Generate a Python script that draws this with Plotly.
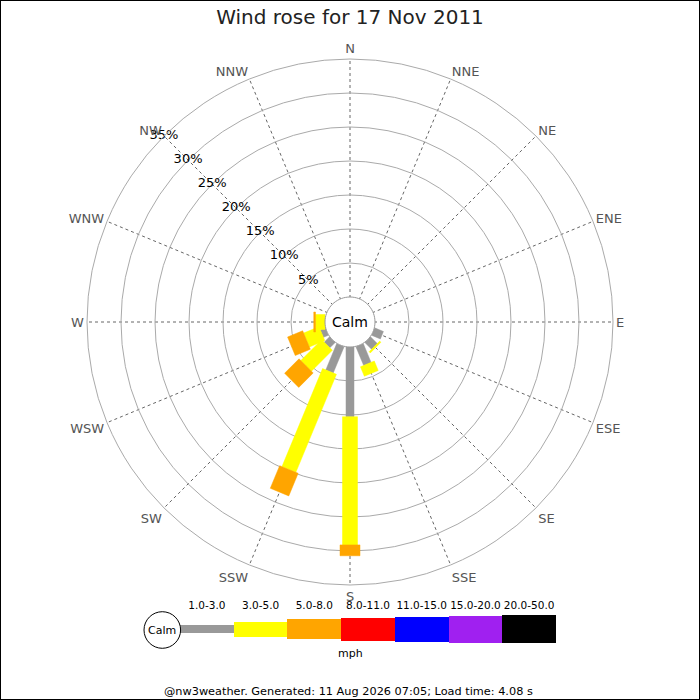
import math
import plotly.graph_objects as go

# wind rose data, % of time per direction and speed band (calm shown separately)
directions = ["N", "NNE", "NE", "ENE", "E", "ESE", "SE", "SSE",
              "S", "SSW", "SW", "WSW", "W", "WNW", "NW", "NNW"]
speed_bands = ["1.0-3.0", "3.0-5.0", "5.0-8.0", "8.0-11.0",
               "11.0-15.0", "15.0-20.0", "20.0-50.0"]
pct_1_3 = [0, 0, 0, 0, 0, 1.4, 1.4, 3.0, 10.25, 4.2, 1.1, 0.8, 0, 0, 0, 0]
pct_3_5 = [0, 0, 0, 0, 0, 0, 0.25, 1.5, 18.85, 15.6, 4.35, 2.45, 1.4, 0, 0, 0]
pct_5_8 = [0, 0, 0, 0, 0, 0, 0, 0, 1.6, 3.6, 3.0, 2.4, 0.25, 0, 0, 0]
pct_8_11 = [0, 0, 0, 0, 0, 0, 0, 0, 0, 0, 0, 0, 0, 0, 0, 0]
pct_11_15 = [0, 0, 0, 0, 0, 0, 0, 0, 0, 0, 0, 0, 0, 0, 0, 0]
pct_15_20 = [0, 0, 0, 0, 0, 0, 0, 0, 0, 0, 0, 0, 0, 0, 0, 0]
pct_20_50 = [0, 0, 0, 0, 0, 0, 0, 0, 0, 0, 0, 0, 0, 0, 0, 0]
ring_pcts = [5, 10, 15, 20, 25, 30, 35]

title = "Wind rose for 17 Nov 2011"
footer = "@nw3weather. Generated: 11 Aug 2026 07:05; Load time: 4.08 s"

# styles
band_colors = ["#999999", "#ffff00", "#ffa500", "#ff0000", "#0000ff", "#a020f0", "#000000"]
band_px = [8, 15, 20, 23, 25, 27, 28]
FONT = "DejaVu Sans"
W = H = 700
PX_PER_PCT = 6.8
CALM_PX = 25
OFF = CALM_PX / PX_PER_PCT
CX, CY, R_OUT = 350, 322, 263

series = [pct_1_3, pct_3_5, pct_5_8, pct_8_11, pct_11_15, pct_15_20, pct_20_50]
angles = [i * 360 / len(directions) for i in range(len(directions))]


def rect_polar(theta0, p0, p1, half):
    # straight-sided bar between p0 and p1 (%), half width in % units
    a0, a1 = p0 + OFF, p1 + OFF
    r, t = [], []
    for a, b in [(a0, -half), (a1, -half), (a1, half), (a0, half), (a0, -half)]:
        r.append(math.hypot(a, b) - OFF)
        t.append(theta0 + math.degrees(math.atan2(b, a)))
    return r, t


def note(x, y, text, size):
    fig.add_annotation(x=x / W, y=(H - y) / H, xref="paper", yref="paper", text=text,
                       showarrow=False, xanchor="center", yanchor="middle",
                       font=dict(family=FONT, size=size, color="black"))


fig = go.Figure()

base = [0.0] * len(directions)
for k, vals in enumerate(series):
    rr, tt = [], []
    half = band_px[k] / 2 / PX_PER_PCT
    for i, v in enumerate(vals):
        if v <= 0:
            continue
        r, t = rect_polar(angles[i], base[i], base[i] + v, half)
        rr += r + [None]
        tt += t + [None]
        base[i] += v
    if rr:
        fig.add_trace(go.Scatterpolar(r=rr, theta=tt, mode="lines", fill="toself",
                                      fillcolor=band_colors[k],
                                      line=dict(color=band_colors[k], width=0.5),
                                      hoverinfo="skip", showlegend=False))

# calm circle
circ = list(range(0, 361, 5))
fig.add_trace(go.Scatterpolar(r=[0] * len(circ), theta=circ, mode="lines", fill="toself",
                              fillcolor="white", line=dict(color="#999999", width=1),
                              hoverinfo="skip", showlegend=False))

# ring labels along NW
fig.add_trace(go.Scatterpolar(r=ring_pcts, theta=[315] * len(ring_pcts), mode="text",
                              text=[f"{p}%" for p in ring_pcts],
                              textfont=dict(family=FONT, size=13, color="black"),
                              hoverinfo="skip", showlegend=False))

# legend key bars
fig.add_trace(go.Bar(x=list(range(len(speed_bands))), y=band_px,
                     base=[-h / 2 for h in band_px], width=1,
                     marker=dict(color=band_colors, line=dict(width=0)),
                     hoverinfo="skip", showlegend=False))
fig.add_trace(go.Scatter(x=list(range(len(speed_bands))), y=[22.3] * len(speed_bands),
                         mode="text", text=speed_bands,
                         textfont=dict(family=FONT, size=10.5, color="black"),
                         hoverinfo="skip", showlegend=False))

fig.update_layout(
    width=W, height=H,
    margin=dict(l=0, r=0, t=0, b=0),
    paper_bgcolor="white", plot_bgcolor="white",
    font=dict(family=FONT),
    showlegend=False,
    title=dict(text=title, x=0.5, xanchor="center", y=1 - 17 / H, yanchor="middle",
               font=dict(family=FONT, size=20, color="#222222")),
    polar=dict(
        domain=dict(x=[(CX - R_OUT) / W, (CX + R_OUT) / W],
                    y=[(H - CY - R_OUT) / H, (H - CY + R_OUT) / H]),
        bgcolor="white",
        radialaxis=dict(range=[-OFF, 35], tickvals=ring_pcts, showticklabels=False,
                        ticks="", showline=False, gridcolor="#aaaaaa", gridwidth=1),
        angularaxis=dict(direction="clockwise", rotation=90, tickmode="array",
                         tickvals=angles, ticktext=directions, ticks="",
                         showline=True, linecolor="#aaaaaa", linewidth=1,
                         gridcolor="#666666", griddash="dot", gridwidth=1,
                         tickfont=dict(family=FONT, size=13, color="#555555")),
    ),
    xaxis=dict(domain=[180 / W, 556 / W], range=[-0.5, 6.5], visible=False, fixedrange=True),
    yaxis=dict(domain=[50 / H, 100 / H], range=[-21, 29], visible=False, fixedrange=True),
    bargap=0,
)

# legend calm circle
lx, ly, lr = 162.3, 630, 18.3
fig.add_shape(type="circle", xref="paper", yref="paper",
              x0=(lx - lr) / W, x1=(lx + lr) / W, y0=(H - ly - lr) / H, y1=(H - ly + lr) / H,
              line=dict(color="black", width=1), fillcolor="white", layer="above")
note(lx, ly, "Calm", 11)
note(CX, CY, "Calm", 14)
note(350.7, 653, "mph", 11)
note(348, 691.5, footer, 11.3)

# outer frame
fig.add_shape(type="rect", xref="paper", yref="paper", x0=0, y0=0, x1=1, y1=1,
              line=dict(color="black", width=2), layer="above")

fig.write_html("out.html", config={"displayModeBar": False},
               post_script="document.body.style.margin='0';")
